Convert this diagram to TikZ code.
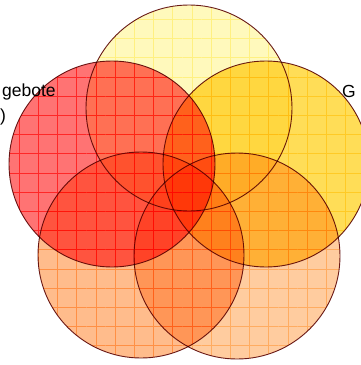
\documentclass[tikz,border=0pt]{standalone}
\usepackage{fontspec}
\setmainfont{Liberation Sans}
\usetikzlibrary{patterns.meta}
\definecolor{topc}{HTML}{FFF9BC}
\definecolor{topl}{HTML}{FFF6B0}
\definecolor{leftc}{HTML}{FF7373}
\definecolor{leftl}{HTML}{FF5858}
\definecolor{rightc}{HTML}{FFDD57}
\definecolor{rightl}{HTML}{FFEA70}
\definecolor{blc}{HTML}{FFBC8C}
\definecolor{bll}{HTML}{FFC47E}
\definecolor{brc}{HTML}{FFCC9F}
\definecolor{brl}{HTML}{FFD89C}
\definecolor{edge}{HTML}{6A1C1C}
\tikzset{
  venn/.style={circle, minimum size=206pt, inner sep=0pt, draw=edge, line width=0.9pt},
  lbl/.style={inner sep=0pt, font=\fontsize{17.5}{20}\selectfont, text=black}
}
\newcommand{\vennfill}[3]{%
  \fill[#2] (#1) circle[radius=103];
  \fill[pattern={Hatch[distance=19.2pt,angle=0,line width=0.8pt]}, pattern color=#3] (#1) circle[radius=103];
}
\begin{document}
\begin{tikzpicture}[x=1pt,y=-1pt]
\useasboundingbox (0,0) rectangle (360,365);
\coordinate (ct) at (189,108);
\coordinate (cl) at (112,164);
\coordinate (cr) at (266,164);
\coordinate (cbl) at (141,255);
\coordinate (cbr) at (237,256);
\begin{scope}[blend mode=multiply]
\vennfill{ct}{topc}{topl}
\vennfill{cl}{leftc}{leftl}
\vennfill{cr}{rightc}{rightl}
\vennfill{cbl}{blc}{bll}
\vennfill{cbr}{brc}{brl}
\node[venn] (top) at (ct) {};
\node[venn] (left) at (cl) {};
\node[venn] (right) at (cr) {};
\node[venn] (botleft) at (cbl) {};
\node[venn] (botright) at (cbr) {};
\end{scope}
\node[lbl, anchor=base west] (l1) at (2,96) {gebote};
\node[lbl, anchor=base west] (l2) at (0,121) {)};
\node[lbl, anchor=base west] (r1) at (342,97) {G};
\end{tikzpicture}
\end{document}
